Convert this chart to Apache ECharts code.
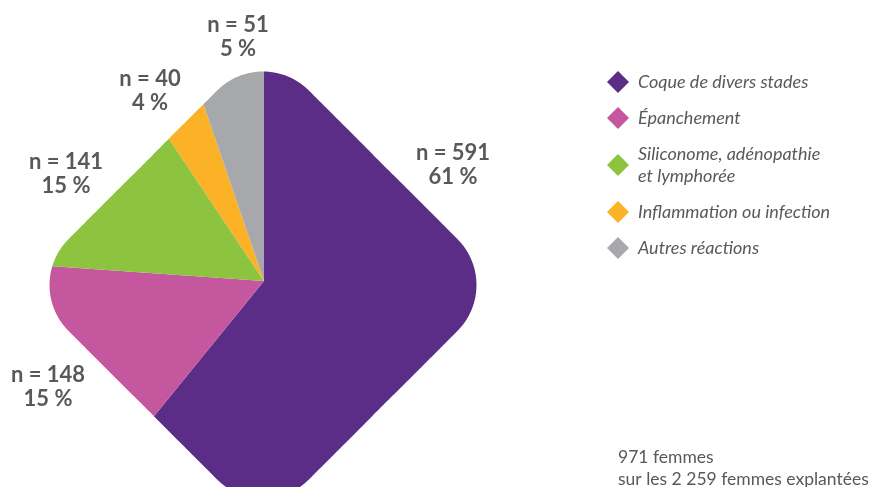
<!DOCTYPE html>
<html>
<head>
<meta charset="utf-8">
<script src="https://cdn.jsdelivr.net/npm/echarts@6/dist/echarts.min.js"></script>
<style>
  html, body { margin: 0; background: #fff; }
  #chart { width: 871px; height: 487px; }
</style>
</head>
<body>
<div id="chart"></div>
<script>
const categories = ['Coque de divers stades', 'Épanchement', 'Siliconome, adénopathie\net lymphorée', 'Inflammation ou infection', 'Autres réactions']
const counts = [591, 148, 141, 40, 51]
const colors = ['#5b2d86', '#c4579e', '#8cc43f', '#fbb227', '#a7a8ab']
const footnote = ['971 femmes', 'sur les 2 259 femmes explantées']

const pieCenter = [264, 281]
const shapeCenter = [263, 285]
// where each "n = ... / .. %" block sits
const labelPos = [[453, 165], [48, 387], [66, 174], [150, 91], [238, 37]]
const textColor = '#58595b'

const pieData = categories.map((name, i) => ({ name, value: counts[i], itemStyle: { color: colors[i] } }))

// rounded square turned 45deg: half side 170, corner radius 65
function insideShape(x, y) {
  const a = 170
  const c = 65
  const u = (x + y) / Math.SQRT2
  const v = (y - x) / Math.SQRT2
  const qx = Math.max(Math.abs(u) - (a - c), 0)
  const qy = Math.max(Math.abs(v) - (a - c), 0)
  return Math.abs(u) <= a && Math.abs(v) <= a && qx * qx + qy * qy <= c * c
}

function shapeRadius(t) {
  let lo = 0
  let hi = 320
  for (let i = 0; i < 30; i++) {
    const m = (lo + hi) / 2
    if (insideShape(m * Math.cos(t), m * Math.sin(t))) lo = m
    else hi = m
  }
  return lo
}

// white pieces between the pie circle and the diamond, overlapping a bit
function maskPieces() {
  const R = 240
  const pieces = []
  for (let q = 0; q < 4; q++) {
    const from = q * 90 - 50
    const to = q * 90 + 50
    const pts = []
    for (let d = from; d <= to; d += 1) {
      const t = d * Math.PI / 180
      pts.push([shapeCenter[0] + R * Math.cos(t), shapeCenter[1] + R * Math.sin(t)])
    }
    for (let d = to; d >= from; d -= 1) {
      const t = d * Math.PI / 180
      const r = shapeRadius(t)
      pts.push([shapeCenter[0] + r * Math.cos(t), shapeCenter[1] + r * Math.sin(t)])
    }
    pieces.push({
      type: 'polygon',
      z: 10,
      silent: true,
      shape: { points: pts },
      style: { fill: '#fff' }
    })
  }
  return pieces
}

const chart = echarts.init(document.getElementById('chart'))

chart.setOption({
  animation: false,
  legend: {
    orient: 'vertical',
    left: 602,
    top: 66,
    icon: 'path://M0,-1L1,0L0,1L-1,0Z',
    itemWidth: 30,
    itemHeight: 22,
    itemGap: 14,
    selectedMode: false,
    data: categories,
    textStyle: {
      fontFamily: 'Lato',
      fontStyle: 'italic',
      fontSize: 18,
      lineHeight: 22,
      color: textColor
    }
  },
  graphic: maskPieces().concat([{
    type: 'text',
    left: 618,
    top: 446,
    z: 30,
    style: {
      text: footnote.join('\n'),
      fontFamily: 'Lato',
      fontSize: 17.5,
      lineHeight: 22,
      fill: textColor
    }
  }]),
  series: [{
    type: 'pie',
    z: 2,
    center: pieCenter,
    radius: 222,
    startAngle: 90,
    clockwise: true,
    silent: true,
    label: { show: false },
    labelLine: { show: false },
    emphasis: { disabled: true },
    data: pieData
  }, {
    // same slices, invisible, only to carry the labels above the mask
    type: 'pie',
    z: 20,
    center: pieCenter,
    radius: 222,
    startAngle: 90,
    clockwise: true,
    silent: true,
    percentPrecision: 0,
    itemStyle: { color: 'rgba(0,0,0,0)' },
    emphasis: { disabled: true },
    labelLine: { show: false },
    label: {
      show: true,
      position: 'inside',
      formatter: 'n = {c}\n{d} %',
      fontFamily: 'Lato',
      fontWeight: 'bold',
      fontSize: 22,
      lineHeight: 24,
      align: 'center',
      color: textColor
    },
    labelLayout: function (params) {
      const p = labelPos[params.dataIndex]
      return { x: p[0], y: p[1], align: 'center', verticalAlign: 'middle' }
    },
    data: categories.map((name, i) => ({ name, value: counts[i] }))
  }]
})
</script>
</body>
</html>
